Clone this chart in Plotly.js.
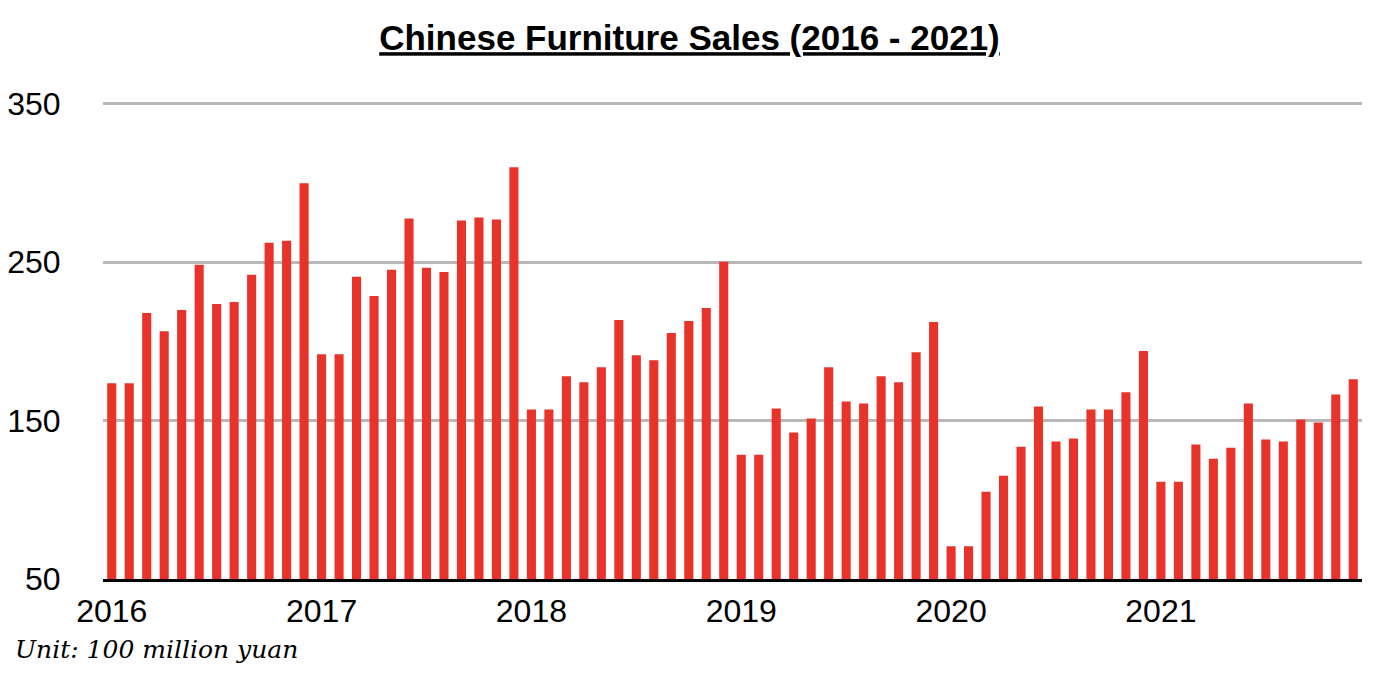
<!DOCTYPE html>
<html>
<head>
<meta charset="utf-8">
<script src="https://cdn.plot.ly/plotly-3.0.1.min.js"></script>
<style>html,body{margin:0;padding:0;background:#fff;}#chart{width:1379px;height:690px;}</style>
</head>
<body>
<div id="chart"></div>
<script>
const years = ["2016", "2017", "2018", "2019", "2020", "2021"];
const sales2016 = [173.5, 173.5, 217.8, 206.4, 219.8, 248.3, 223.6, 224.8, 242, 262.2, 263.5, 299.7];
const sales2017 = [191.8, 191.8, 240.7, 228.6, 245.1, 277.5, 246.4, 243.8, 276.2, 278.1, 276.8, 309.8];
const sales2018 = [157, 157, 177.9, 174.1, 183.6, 213.4, 191.2, 188, 205.2, 212.8, 221, 250.2];
const sales2019 = [128.4, 128.4, 157.6, 142.4, 151.3, 183.6, 162, 160.8, 177.9, 174.1, 193.1, 212.2];
const sales2020 = [70.7, 70.7, 105, 115.1, 133.5, 158.9, 136.7, 138.6, 157, 157, 167.8, 193.8];
const sales2021 = [111.3, 111.3, 134.8, 125.9, 132.9, 160.8, 138, 136.7, 150.6, 148.7, 166.5, 176];
const yTicks = [50, 150, 250, 350];

const values = [].concat(sales2016, sales2017, sales2018, sales2019, sales2020, sales2021);
const xIdx = values.map((v, i) => i);
const tickVals = years.map((y, i) => i * 12);

const trace = {
  type: "bar",
  x: xIdx,
  y: values,
  marker: {color: "#e8332b"},
  hoverinfo: "y"
};

const layout = {
  width: 1379,
  height: 690,
  margin: {l: 103, r: 17, t: 102.4, b: 111},
  paper_bgcolor: "#fff",
  plot_bgcolor: "#fff",
  bargap: 0.48,
  showlegend: false,
  font: {family: "Liberation Sans, Arial, sans-serif", color: "#000"},
  title: {
    text: "<b><u>Chinese Furniture Sales (2016 - 2021)</u></b>",
    font: {size: 35, family: "Liberation Sans, Arial, sans-serif", color: "#000"},
    x: 0.5, xanchor: "center",
    y: 0.945, yanchor: "middle"
  },
  xaxis: {
    range: [-0.5, 71.5],
    tickmode: "array",
    tickvals: tickVals,
    ticktext: years,
    tickfont: {size: 32},
    ticks: "outside",
    ticklen: 2,
    tickcolor: "rgba(0,0,0,0)",
    showgrid: false,
    zeroline: false,
    showline: true,
    linecolor: "#000",
    linewidth: 3,
    fixedrange: true
  },
  yaxis: {
    range: [50, 351],
    tickmode: "array",
    tickvals: yTicks,
    tickfont: {size: 32},
    ticks: "outside",
    ticklen: 35,
    tickcolor: "rgba(0,0,0,0)",
    showgrid: true,
    gridcolor: "#b8b8b8",
    gridwidth: 3,
    zeroline: false,
    showline: false,
    fixedrange: true
  },
  annotations: [{
    text: "<i>Unit: 100 million yuan</i>",
    xref: "paper", yref: "paper",
    x: -0.0718, y: -0.147,
    xanchor: "left", yanchor: "middle",
    showarrow: false,
    font: {size: 25, family: "DejaVu Serif, Georgia, serif", color: "#000"}
  }]
};

Plotly.newPlot("chart", [trace], layout, {displayModeBar: false, staticPlot: true});
</script>
</body>
</html>
